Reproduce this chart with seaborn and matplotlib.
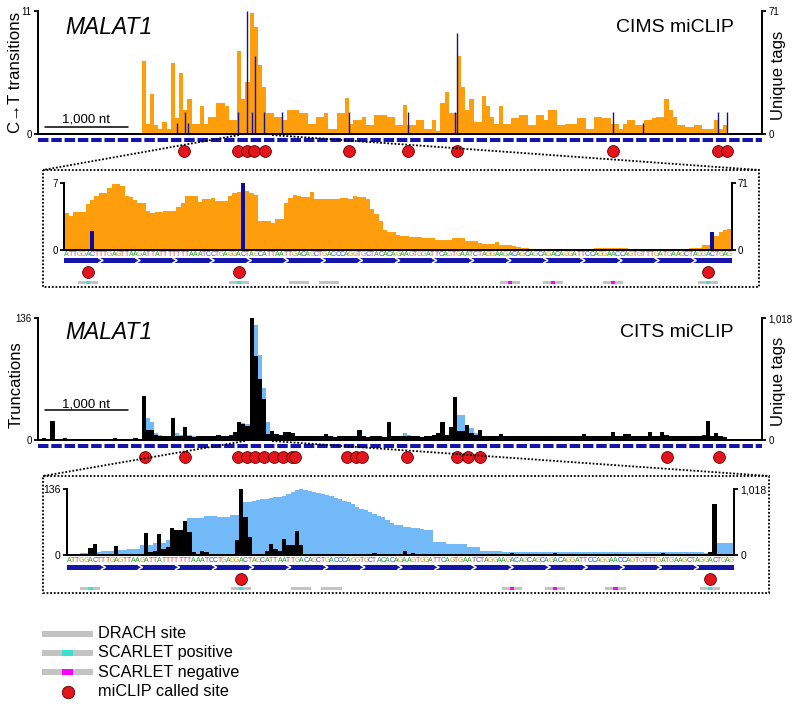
import numpy as np
import pandas as pd
import seaborn as sns
import matplotlib.pyplot as plt
from matplotlib.patches import Rectangle

W, H = 800, 706
BIN_NT = 50
TRANSCRIPT_NT = 8725
TOP_FIRST_BIN = 1250
SCALE_START = 84

# ---- CIMS miCLIP, whole transcript (50 nt bins) ----
TOP_TAGS = [42, 6, 23, 5, 3, 7, 3, 41, 9, 35,
            14, 20, 6, 6, 16, 6, 10, 10, 18, 18,
            16, 8, 8, 48, 20, 30, 70, 62, 40, 27,
            12, 12, 10, 10, 8, 14, 14, 14, 12, 12,
            6, 6, 10, 10, 12, 3, 3, 12, 12, 21,
            6, 8, 8, 10, 5, 5, 11, 11, 11, 10,
            10, 5, 5, 17, 5, 5, 8, 8, 3, 3,
            8, 2, 18, 24, 12, 12, 45, 27, 14, 20,
            7, 7, 22, 16, 10, 6, 16, 6, 6, 9,
            9, 11, 11, 5, 5, 11, 11, 8, 14, 14,
            5, 5, 6, 6, 6, 9, 9, 3, 3, 10,
            10, 9, 9, 6, 6, 3, 6, 8, 8, 5,
            5, 8, 8, 9, 10, 10, 20, 14, 10, 5,
            5, 4, 4, 5, 5, 3, 3, 3, 8, 3,
            5, 0.5]
TOP_CT_POS = [1675, 1771, 1808, 2410, 2518, 2579, 2615, 2723, 2940, 3748,
              4459, 5025, 5049, 6929, 7290, 8194, 8302]
TOP_CT_VAL = [1, 2, 1, 2, 11, 2, 7, 2, 2, 2, 2, 2, 9, 2, 1, 2, 2]
TOP_SITES = [1759, 2410, 2518, 2603, 2735, 3748, 4459, 5049, 6929, 8194, 8302]

# ---- CITS miCLIP, whole transcript (50 nt bins from 0) ----
BOTTOM_TRUNC = [0, 2.6, 0, 21, 0, 0, 2, 0, 0, 0,
                0, 0, 0, 0, 0, 0, 0, 0, 2, 0,
                0, 0, 0, 2, 0, 49, 11, 11, 6, 5,
                4, 4, 25, 4, 5, 15, 4, 3, 4, 5,
                4, 5, 5, 6, 5, 4, 6, 9, 20, 18,
                16, 136, 94, 68, 46, 7, 10, 7, 6, 9,
                9, 8, 5, 4, 5, 4, 5, 4, 5, 7,
                4, 3, 4, 5, 4, 4, 5, 11, 4, 3,
                4, 5, 4, 3, 20, 4, 5, 4, 4, 5,
                4, 4, 3, 4, 5, 6, 8, 20, 6, 15,
                48, 10, 10, 17, 8, 6, 11, 5, 4, 4,
                5, 7, 4, 4, 5, 4, 5, 4, 4, 5,
                4, 4, 5, 4, 4, 5, 4, 5, 4, 5,
                4, 7, 4, 5, 4, 4, 5, 4, 9, 5,
                4, 7, 7, 4, 5, 4, 5, 9, 5, 4,
                9, 6, 5, 4, 5, 4, 5, 4, 4, 5,
                6, 21, 5, 8, 4, 3, 1, 0]
BOTTOM_TAGS = [0, 15, 0, 20, 0, 0, 0, 0, 0, 0,
               0, 0, 0, 0, 0, 0, 0, 0, 0, 0,
               0, 0, 0, 0, 0, 200, 180, 150, 60, 45,
               35, 30, 111, 60, 40, 97, 45, 30, 30, 28,
               30, 28, 30, 32, 30, 28, 30, 60, 139, 139,
               130, 1018, 957, 707, 430, 153, 42, 30, 28, 30,
               28, 26, 28, 30, 28, 26, 28, 30, 28, 28,
               26, 28, 30, 28, 26, 28, 30, 35, 28, 26,
               28, 30, 28, 26, 30, 28, 26, 28, 55, 40,
               28, 26, 28, 30, 28, 30, 35, 60, 40, 80,
               150, 208, 208, 125, 100, 60, 50, 30, 28, 26,
               28, 30, 28, 26, 28, 25, 26, 28, 25, 26,
               28, 25, 26, 28, 25, 26, 28, 25, 26, 28,
               25, 30, 26, 25, 28, 26, 25, 28, 30, 26,
               25, 28, 26, 25, 28, 26, 25, 28, 26, 25,
               55, 40, 26, 25, 28, 26, 25, 28, 26, 25,
               28, 30, 26, 40, 25, 20, 10, 0]
BOTTOM_SITES = [1289, 1771, 2414, 2515, 2615, 2727, 2847, 2949, 3064, 3097,
                3720, 3832, 3901, 4443, 5053, 5185, 5326, 7576, 8210]

# ---- zoomed region (per nucleotide) ----
SEQ = ("ATTGGACTTTGAGTTAAGATTATTTTTTTAAATCCTGAGGACTAGCATTAATTGACAGCTGACCCAGGTG"
       "CTACACAGAAGTGGATTCAGTGAATCTAGGAAGACAGCAGCAGACAGGATTCCAGGAACCAGTGTTTGAT"
       "GAAGCTAGGACTGAG")
INSET1_TAGS = [39, 36, 40, 40, 40, 49, 53, 58, 61, 61,
               66, 70, 70, 68, 57, 56, 53, 50, 50, 42,
               39, 40, 40, 42, 42, 42, 46, 50, 57, 57,
               57, 51, 54, 54, 55, 52, 52, 52, 58, 61,
               62, 63, 63, 61, 59, 31, 31, 31, 29, 33,
               33, 50, 55, 59, 57, 56, 56, 62, 54, 54,
               54, 54, 54, 54, 55, 55, 54, 57, 56, 56,
               54, 44, 38, 31, 21, 19, 19, 16, 15, 15,
               14, 14, 14, 13, 13, 13, 11, 11, 11, 11,
               13, 13, 13, 10, 10, 10, 7, 6, 6, 6,
               8, 5, 5, 5, 4, 3, 2, 2, 1, 1,
               1, 1, 1, 1, 1, 1, 1, 1, 1, 0.7,
               0.7, 0.7, 0.7, 2, 2, 2, 2, 2, 2, 2,
               2, 0, 0, 0, 0, 0, 0, 0, 0, 0,
               0, 0, 0, 0, 0, 2, 2, 2, 5, 5,
               10, 15, 19, 21, 22]
INSET1_CT_POS = [6, 41, 150]
INSET1_CT_VAL = [2, 7, 1.9]
INSET2_TRUNC = [2, 0, 0, 0, 0, 14, 22, 2, 2, 1.5,
                1.5, 18, 2, 2, 0.5, 0.5, 0.5, 0.5, 45, 5.6,
                7.7, 44, 12.5, 16, 56, 52, 52, 70, 47, 7,
                0.5, 9, 7, 2, 0.5, 0.5, 0.5, 0.5, 0.5, 32,
                136, 79, 37, 2, 2, 2, 9, 22, 12.5, 9,
                33, 20, 20, 49, 20, 1, 1, 2, 1, 1,
                1, 0.5, 1, 1, 0.5, 1, 1, 0.5, 2, 1,
                1, 4, 1, 0.5, 1, 1, 0.5, 1, 9, 1,
                3.5, 1, 1, 2, 1.5, 1, 1, 0.5, 1.5, 1,
                1.5, 1, 0.5, 1.5, 1, 1, 0.5, 1, 1, 0.5,
                1, 1.5, 1, 4, 1, 0.5, 1, 1, 0.5, 1,
                1, 0.5, 1, 5, 1, 0.5, 1, 1.5, 1.5, 1,
                2, 1, 0.5, 1.5, 1, 0.5, 1, 1, 0.5, 1,
                1, 0.5, 1, 1, 1.5, 1, 0.5, 1, 3.5, 1,
                1.5, 1.5, 1, 0.5, 1, 1, 0.5, 1, 2, 7,
                105, 1, 1, 1.5, 1]
INSET2_TAGS = [16, 16, 16, 26, 26, 45, 45, 45, 60, 60,
               60, 80, 80, 80, 100, 100, 100, 150, 150, 150,
               190, 190, 190, 230, 230, 230, 230, 230, 574, 574,
               574, 574, 606, 606, 606, 590, 590, 590, 616, 616,
               720, 825, 825, 840, 850, 860, 870, 880, 893, 900,
               910, 940, 980, 1010, 1015, 1010, 995, 981, 960, 940,
               930, 919, 890, 860, 840, 825, 790, 750, 720, 694,
               660, 630, 600, 590, 550, 500, 470, 459, 440, 430,
               420, 418, 400, 390, 381, 209, 209, 209, 172, 172,
               172, 172, 172, 120, 120, 120, 68, 68, 68, 68,
               68, 52, 52, 52, 52, 52, 52, 52, 52, 52,
               52, 52, 52, 52, 52, 52, 52, 52, 52, 52,
               52, 52, 52, 52, 42, 42, 42, 42, 42, 42,
               42, 42, 42, 42, 42, 42, 42, 42, 42, 42,
               52, 52, 52, 52, 52, 52, 52, 52, 31, 31,
               31, 180, 185, 190, 190]
INSET1_SITES = [5, 40, 149]
INSET2_SITES = [40, 149]
DRACH_START = [3, 38, 52, 59, 101, 111, 125, 147]
DRACH_CLASS = ["pos", "pos", "none", "none", "neg", "neg", "neg", "pos"]

ORANGE = "#ff9e0c"
NAVY = "#14148e"
BAR_BLUE = "#0b0b9e"
GENE_BLUE = "#1515aa"
LIGHT_BLUE = "#72b9f7"
RED = "#e3141b"
GREY = "#c3c3c3"
TEAL = "#3fdfcf"
MAGENTA = "#ff00ff"
BASE_COLORS = {"A": "#2ca02c", "C": "#2b4cff", "G": "#e39b00", "T": "#ff2a2a"}
CLASS_COLORS = {"pos": TEAL, "neg": MAGENTA}

sns.set_style("ticks", {"axes.edgecolor": "black", "xtick.color": "black",
                        "ytick.color": "black", "text.color": "black"})
plt.rcParams["font.family"] = ["Liberation Sans", "DejaVu Sans"]

fig = plt.figure(figsize=(W / 100, H / 100), dpi=100)


def px_axes(x0, y0, x1, y1):
    return fig.add_axes([x0 / W, 1 - y1 / H, (x1 - x0) / W, (y1 - y0) / H])


def ftext(x, y, s, **kw):
    fig.text(x / W, 1 - y / H, s, **kw)


def binned(ax, starts, values, width, color, element="step", edges=None):
    starts = np.asarray(starts, dtype=float)
    if edges is None:
        edges = np.append(starts, starts[-1] + width)
    edges = [float(e) for e in edges]
    df = pd.DataFrame({"pos": starts + width / 2, "value": np.asarray(values, dtype=float)})
    kw = dict(fill=True) if element == "step" else {}
    sns.histplot(data=df, x="pos", weights="value", bins=edges, element=element,
                 color=color, alpha=1, linewidth=0, ax=ax, **kw)


def style_pair(ax, ax2, left_max, right_max, left_ticks, right_ticks, fs):
    ax.set_zorder(ax2.get_zorder() + 1)
    ax.patch.set_visible(False)
    ax.set_ylim(0, left_max)
    ax2.set_ylim(0, right_max)
    ax.set_yticks([0, left_max], left_ticks)
    ax2.set_yticks([0, right_max], right_ticks)
    for a in (ax, ax2):
        a.set_xticks([])
        a.set_xlabel("")
        a.set_ylabel("")
        a.spines["top"].set_visible(False)
        for sp in a.spines.values():
            sp.set_linewidth(1.3)
        a.tick_params(axis="y", length=3, width=1.3, labelsize=fs, pad=1.5)


def annot_axes(x0, y0, x1, y1, xmax):
    a = px_axes(x0, y0, x1, y1)
    a.set_xlim(0, xmax)
    a.set_ylim(y1, y0)
    a.axis("off")
    a.patch.set_visible(False)
    return a


def circles(ax, xs, y, s=72):
    sns.scatterplot(x=list(xs), y=[y] * len(xs), s=s, color=RED, edgecolor="#5a0000",
                    linewidth=0.6, legend=False, ax=ax, clip_on=False, zorder=5)


def gene_track(ax, y_gene, sites, y_site):
    ax.plot([0, TRANSCRIPT_NT], [y_gene, y_gene], color=GENE_BLUE, lw=2.9,
            dashes=(2.6, 0.7), dash_capstyle="butt", solid_capstyle="butt")
    circles(ax, sites, y_site)


def seq_track(ax, y_seq, y_bar, y_site, y_drach, sites):
    n = len(SEQ)
    for i, b in enumerate(SEQ):
        ax.text(i + 0.5, y_seq, b, color=BASE_COLORS[b], fontsize=5,
                ha="center", va="center")
    ax.add_patch(Rectangle((0, y_bar - 2.3), n, 4.6, color=GENE_BLUE, lw=0))
    for k in range(1, 18):
        c = k * n / 18
        ax.plot([c - 0.6, c + 0.4, c - 0.6], [y_bar - 2.3, y_bar, y_bar + 2.3],
                color="white", lw=1.1, solid_joinstyle="miter")
    circles(ax, [p + 0.5 for p in sites], y_site)
    for st, cl in zip(DRACH_START, DRACH_CLASS):
        ax.add_patch(Rectangle((st + 0.15, y_drach - 1.9), 4.7, 3.8, color=GREY, lw=0))
        if cl in CLASS_COLORS:
            ax.add_patch(Rectangle((st + 2, y_drach - 1.9), 1, 3.8,
                                   color=CLASS_COLORS[cl], lw=0))


# ===== CIMS whole transcript =====
ax_top = px_axes(38, 11, 762, 134)
ax_top_r = ax_top.twinx()
binned(ax_top_r, TOP_FIRST_BIN + BIN_NT * np.arange(len(TOP_TAGS)), TOP_TAGS,
       BIN_NT, ORANGE)
ax_top.vlines(TOP_CT_POS, 0, TOP_CT_VAL, color=NAVY, lw=1.0)
style_pair(ax_top, ax_top_r, 11, 71, ["0", "11"], ["0", "71"], 7)
ax_top.set_xlim(0, TRANSCRIPT_NT)
tr = ax_top.get_xaxis_transform()
ax_top.plot([SCALE_START, SCALE_START + 1000], [0.054, 0.054], transform=tr,
            color="black", lw=1.1, clip_on=False)
ax_top.text(SCALE_START + 500, 0.092, "1,000 nt", transform=tr, ha="center",
            va="baseline", fontsize=9.5)

ax_gt = annot_axes(38, 134, 762, 162, TRANSCRIPT_NT)
gene_track(ax_gt, 140, TOP_SITES, 151)

ftext(65, 34.5, "MALAT1", fontsize=16.5, style="italic", va="baseline")
ftext(734, 32, "CIMS miCLIP", fontsize=14, ha="right", va="baseline")
ftext(16, 72, "C\u2192T transitions", fontsize=12.2, rotation=90, ha="center", va="center")
ftext(779, 75, "Unique tags", fontsize=12, rotation=90, ha="center", va="center")

# ===== CIMS zoom =====
n_seq = len(SEQ)
ax_i1 = px_axes(64.3, 183.3, 731.7, 250)
ax_i1_r = ax_i1.twinx()
binned(ax_i1_r, np.arange(n_seq), INSET1_TAGS, 1, ORANGE)
binned(ax_i1, INSET1_CT_POS, INSET1_CT_VAL, 1, BAR_BLUE, element="bars",
       edges=np.arange(n_seq + 1))
style_pair(ax_i1, ax_i1_r, 7, 71, ["0", "7"], ["0", "71"], 7)
ax_i1.set_xlim(0, n_seq)
ax_a1 = annot_axes(64.3, 250, 731.7, 292, n_seq)
seq_track(ax_a1, 254, 260.5, 272, 282.5, INSET1_SITES)

# ===== CITS whole transcript =====
ax_bot = px_axes(38, 318, 762, 440)
ax_bot_r = ax_bot.twinx()
binned(ax_bot_r, BIN_NT * np.arange(len(BOTTOM_TAGS)), BOTTOM_TAGS, BIN_NT, LIGHT_BLUE)
binned(ax_bot, BIN_NT * np.arange(len(BOTTOM_TRUNC)), BOTTOM_TRUNC, BIN_NT, "black")
style_pair(ax_bot, ax_bot_r, 136, 1018, ["0", "136"], ["0", "1,018"], 7)
ax_bot.set_xlim(0, TRANSCRIPT_NT)
trb = ax_bot.get_xaxis_transform()
ax_bot.plot([SCALE_START, SCALE_START + 1000], [0.243, 0.243], transform=trb,
            color="black", lw=1.1, clip_on=False)
ax_bot.text(SCALE_START + 500, 0.265, "1,000 nt", transform=trb, ha="center",
            va="baseline", fontsize=9.5)

ax_gb = annot_axes(38, 440, 762, 468, TRANSCRIPT_NT)
gene_track(ax_gb, 445.5, BOTTOM_SITES, 457)

ftext(65, 339, "MALAT1", fontsize=16.5, style="italic", va="baseline")
ftext(733, 337, "CITS miCLIP", fontsize=14, ha="right", va="baseline")
ftext(16, 385, "Truncations", fontsize=12, rotation=90, ha="center", va="center")
ftext(779, 381, "Unique tags", fontsize=12, rotation=90, ha="center", va="center")

# ===== CITS zoom =====
ax_i2 = px_axes(66.7, 489.3, 734, 555)
ax_i2_r = ax_i2.twinx()
binned(ax_i2_r, np.arange(n_seq), INSET2_TAGS, 1, LIGHT_BLUE)
binned(ax_i2, np.arange(n_seq), INSET2_TRUNC, 1, "black")
style_pair(ax_i2, ax_i2_r, 136, 1018, ["0", "136"], ["0", "1,018"], 7.5)
ax_i2.set_xlim(0, n_seq)
ax_a2 = annot_axes(66.7, 555, 734, 597, n_seq)
seq_track(ax_a2, 560.7, 567.3, 578.5, 588.5, INSET2_SITES)

# ===== overlay: zoom boxes, connectors, legend =====
ax_o = fig.add_axes([0, 0, 1, 1])
ax_o.set_xlim(0, W)
ax_o.set_ylim(H, 0)
ax_o.axis("off")
ax_o.patch.set_visible(False)
dot = dict(color="black", lw=1.3, linestyle=(0, (1, 1)))
ax_o.add_patch(Rectangle((43, 170), 716, 117, fill=False, **dot))
ax_o.add_patch(Rectangle((43, 476), 726, 117, fill=False, **dot))
ax_o.plot([239, 43], [135, 170], **dot)
ax_o.plot([272, 759], [135, 170], **dot)
ax_o.plot([245, 43], [441, 476], **dot)
ax_o.plot([272, 769], [441, 476], **dot)

legend_rows = [("DRACH site", None), ("SCARLET positive", TEAL),
               ("SCARLET negative", MAGENTA)]
for k, (label, col) in enumerate(legend_rows):
    y = 634 + 19 * k
    ax_o.add_patch(Rectangle((42, y - 2.7), 51, 5.4, color=GREY, lw=0))
    if col is not None:
        ax_o.add_patch(Rectangle((62, y - 2.7), 11, 5.4, color=col, lw=0))
    ax_o.text(98, y, label, fontsize=11.7, va="center", ha="left")
ax_o.scatter([68], [691.5], s=80, color=RED, edgecolor="#5a0000", linewidth=0.6)
ax_o.text(98, 691.5, "miCLIP called site", fontsize=11.7, va="center", ha="left")

fig.savefig("out.png", dpi=100)
